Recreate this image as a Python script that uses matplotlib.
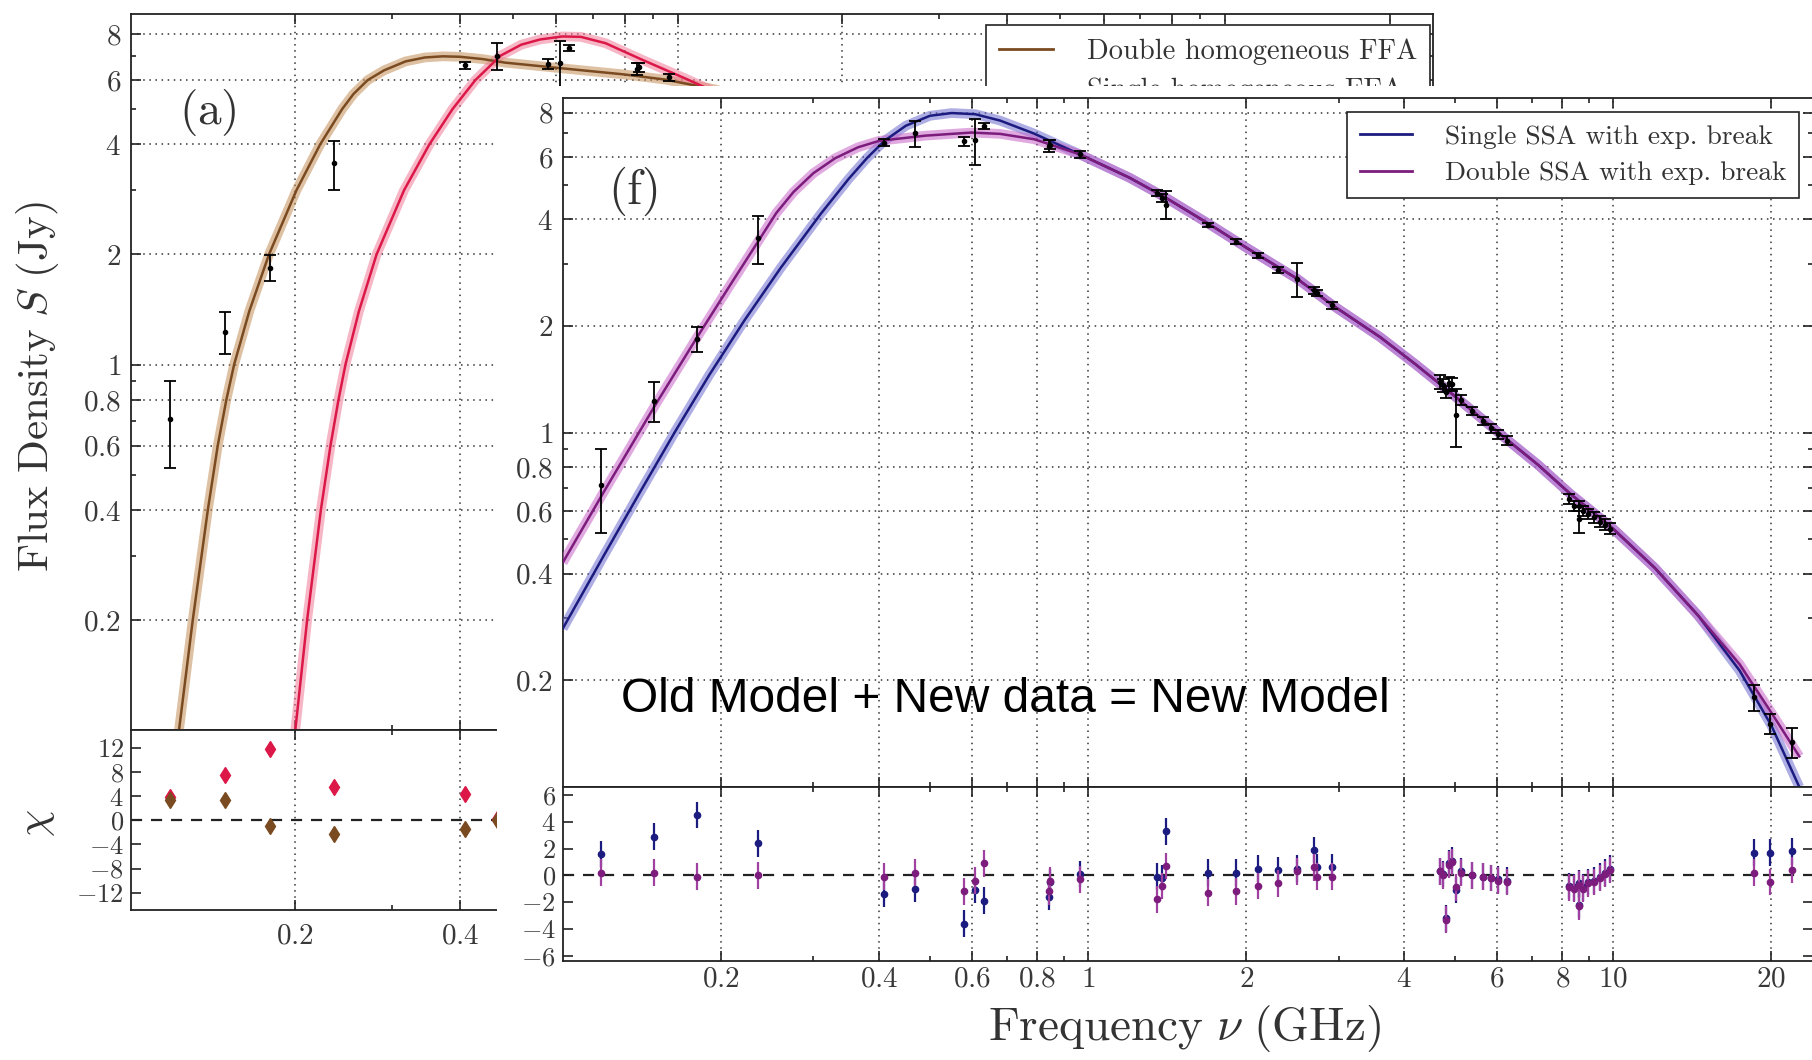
import numpy as np
import matplotlib
matplotlib.use('Agg')
import matplotlib.pyplot as plt
from matplotlib.ticker import FixedLocator, FixedFormatter, NullFormatter
from matplotlib.patches import Rectangle

plt.rcParams['mathtext.fontset'] = 'cm'
plt.rcParams['font.family'] = 'serif'
plt.rcParams['font.serif'] = ['cmr10', 'DejaVu Serif']
plt.rcParams['axes.unicode_minus'] = False

# measured spectrum (GHz, Jy)
freq = [0.118, 0.149, 0.180, 0.235, 0.408, 0.468, 0.580, 0.610, 0.634, 0.842,
        0.848, 0.965, 1.35, 1.38, 1.41, 1.69, 1.91, 2.11, 2.30, 2.50,
        2.69, 2.73, 2.92, 4.67, 4.75, 4.80, 4.86, 4.93, 5.01, 5.13,
        5.38, 5.64, 5.85, 6.04, 6.27, 8.22, 8.43, 8.60, 8.62, 8.77,
        8.97, 9.20, 9.45, 9.66, 9.85, 18.5, 19.9, 21.9]
flux = [0.71, 1.23, 1.84, 3.55, 6.58, 7.0, 6.65, 6.7, 7.35, 6.45,
        6.5, 6.1, 4.75, 4.6, 4.4, 3.86, 3.46, 3.17, 2.88, 2.72,
        2.52, 2.48, 2.29, 1.39, 1.36, 1.30, 1.38, 1.37, 1.12, 1.24,
        1.15, 1.08, 1.03, 0.99, 0.95, 0.65, 0.62, 0.57, 0.62, 0.60,
        0.59, 0.577, 0.56, 0.55, 0.536, 0.179, 0.151, 0.134]
flux_err = [0.19, 0.16, 0.15, 0.55, 0.15, 0.6, 0.2, 1.0, 0.15, 0.25,
            0.2, 0.15, 0.1, 0.12, 0.4, 0.05, 0.05, 0.05, 0.06, 0.3,
            0.05, 0.05, 0.05, 0.06, 0.06, 0.05, 0.06, 0.06, 0.21, 0.04,
            0.03, 0.03, 0.03, 0.03, 0.03, 0.02, 0.02, 0.05, 0.02, 0.02,
            0.02, 0.02, 0.02, 0.02, 0.02, 0.015, 0.01, 0.013]
chi_single = [1.6, 2.9, 4.5, 2.4, -1.4, -1.0, -3.6, -1.1, -1.9, -1.6,
              -0.5, 0.1, -0.1, -0.2, 3.3, 0.2, 0.2, 0.5, 0.4, 0.5,
              1.9, 0.6, 0.6, 0.3, 0.1, -3.2, 0.9, 1.1, -1.1, 0.3,
              0.0, -0.1, -0.2, -0.3, -0.4, -0.8, -0.9, -2.2, -0.6, -0.9,
              -0.5, -0.4, -0.1, 0.2, 0.5, 1.7, 1.7, 1.8]
chi_double = [0.2, 0.2, -0.1, 0.0, -0.1, 0.2, -1.2, -0.4, 0.9, -1.2,
              -0.4, -0.3, -1.8, -0.8, 0.7, -1.3, -1.2, -0.8, -0.6, 0.3,
              0.6, -0.1, -0.1, 0.3, 0.0, -3.3, 0.8, 1.0, -0.9, 0.2,
              0.0, -0.1, -0.2, -0.4, -0.5, -0.9, -1.0, -2.3, -0.7, -1.0,
              -0.6, -0.5, -0.2, 0.1, 0.4, 0.2, -0.5, 0.4]

# panel (a) residuals, low-frequency points only
freq_a_res = [0.118, 0.149, 0.180, 0.235, 0.408, 0.468]
chi_ffa_single = [3.8, 7.5, 11.9, 5.5, 4.3, 0.2]
chi_ffa_double = [3.4, 3.3, -0.9, -2.2, -1.5, 0.0]

# model curves
nu_ffa2 = [0.1226, 0.1299, 0.1384, 0.1443, 0.1496, 0.1546, 0.1648, 0.179, 0.201, 0.222,
           0.2436, 0.2555, 0.2712, 0.2905, 0.318, 0.345, 0.372, 0.40, 0.44, 0.483,
           0.603, 0.797, 0.949, 1.17, 1.3]
s_ffa2 = [0.1, 0.2, 0.4, 0.6, 0.8, 1.0, 1.4, 2.0, 3.0, 4.0,
          5.0, 5.5, 6.0, 6.38, 6.75, 6.92, 6.97, 6.95, 6.85, 6.7,
          6.48, 6.22, 6.02, 5.66, 5.4]
nu_ffa1 = [0.2, 0.2102, 0.2227, 0.2319, 0.2398, 0.2470, 0.2614, 0.2815, 0.3161, 0.3515,
           0.3876, 0.4266, 0.4745, 0.5174, 0.56, 0.615, 0.665, 0.738, 0.861, 1.043,
           1.19, 1.3]
s_ffa1 = [0.1, 0.2, 0.4, 0.6, 0.8, 1.0, 1.4, 2.0, 3.0, 4.0,
          5.0, 6.0, 7.0, 7.5, 7.75, 7.9, 7.88, 7.57, 6.82, 6.02,
          5.5, 5.1]

nu_ssa1 = [0.10, 0.12, 0.14, 0.164, 0.19, 0.222, 0.26, 0.31, 0.35, 0.38,
           0.41, 0.45, 0.50, 0.55, 0.61, 0.68, 0.79, 0.965, 1.2, 1.4,
           1.7, 2.0, 2.5, 2.92, 3.6, 4.2, 4.8, 5.4, 6.2, 7.2,
           8.3, 9.3, 10.0, 12.0, 14.5, 17.4, 20.0, 22.6]
s_ssa1 = [0.28, 0.453, 0.676, 1.013, 1.454, 2.08, 2.92, 4.15, 5.2, 5.97,
          6.67, 7.35, 7.84, 7.98, 7.92, 7.6, 6.98, 6.1, 5.24, 4.62,
          3.88, 3.33, 2.72, 2.29, 1.86, 1.56, 1.33, 1.15, 0.97, 0.81,
          0.67, 0.585, 0.535, 0.415, 0.305, 0.213, 0.149, 0.1]
nu_ssa2 = [0.10, 0.12, 0.15, 0.18, 0.21, 0.235, 0.255, 0.275, 0.30, 0.33,
           0.365, 0.40, 0.49, 0.60, 0.68, 0.79, 0.965, 1.2, 1.4, 1.7,
           2.0, 2.5, 2.92, 3.6, 4.2, 4.8, 5.4, 6.2, 7.2, 8.3,
           9.3, 10.0, 12.0, 14.5, 17.4, 20.0, 22.6]
s_ssa2 = [0.43, 0.685, 1.197, 1.855, 2.66, 3.45, 4.17, 4.78, 5.40, 5.95,
          6.39, 6.66, 6.89, 7.03, 6.97, 6.73, 6.1, 5.24, 4.62, 3.88,
          3.33, 2.72, 2.29, 1.86, 1.56, 1.33, 1.15, 0.97, 0.81, 0.67,
          0.585, 0.535, 0.415, 0.305, 0.222, 0.162, 0.122]

x_major = [0.2, 0.4, 0.6, 0.8, 1, 2, 4, 6, 8, 10, 20]
x_labels = ['$0.2$', '$0.4$', '$0.6$', '$0.8$', '$1$', '$2$', '$4$', '$6$', '$8$', '$10$', '$20$']
x_minor = [0.3, 0.5, 0.7, 0.9, 3, 5, 7, 9]
y_major = [0.2, 0.4, 0.6, 0.8, 1, 2, 4, 6, 8]
y_labels = ['$0.2$', '$0.4$', '$0.6$', '$0.8$', '$1$', '$2$', '$4$', '$6$', '$8$']
y_minor = [0.3, 0.5, 0.7, 0.9, 3, 5, 7]

BROWN, BROWN_L = '#7a4a20', '#c48f58'
RED, RED_L = '#dc1848', '#f27a96'
NAVY, NAVY_L = '#1c1c80', '#6c6cd0'
PURP, PURP_L = '#7c1c7c', '#c864c8'
TICKC = '#383838'
FS = 21

W, H = 1812.0, 1060.0


def box(l, t, r, b):
    return [l / W, 1 - b / H, (r - l) / W, (b - t) / H]


def style(ax, ylog=True, xlabels=False, ygrid=True):
    ax.set_xscale('log')
    ax.set_xlim(0.1, 24)
    ax.xaxis.set_major_locator(FixedLocator(x_major))
    ax.xaxis.set_minor_locator(FixedLocator(x_minor))
    ax.xaxis.set_major_formatter(FixedFormatter(x_labels))
    ax.xaxis.set_minor_formatter(NullFormatter())
    if ylog:
        ax.set_yscale('log')
        ax.yaxis.set_major_locator(FixedLocator(y_major))
        ax.yaxis.set_minor_locator(FixedLocator(y_minor))
        ax.yaxis.set_major_formatter(FixedFormatter(y_labels))
        ax.yaxis.set_minor_formatter(NullFormatter())
    ax.tick_params(which='both', direction='in', top=True, right=True,
                   width=1.2, color='#222222', labelcolor=TICKC, labelsize=FS)
    ax.tick_params(which='major', length=7)
    ax.tick_params(which='minor', length=3.5)
    ax.tick_params(axis='y', pad=7)
    ax.tick_params(axis='x', labelbottom=xlabels)
    for s in ax.spines.values():
        s.set_linewidth(1.3)
        s.set_color('#222222')
    ax.grid(True, which='major', axis='both' if ygrid else 'x',
            ls=(0, (1, 3)), color='#333333', lw=1.1)
    ax.set_axisbelow(True)


def model(ax, nu, s, c, cl):
    ax.plot(nu, s, color=cl, lw=7, alpha=0.55, solid_capstyle='butt',
            solid_joinstyle='round', zorder=3)
    ax.plot(nu, s, color=c, lw=1.8, solid_joinstyle='round', zorder=4)


def legend(ax, handles, labels, anchor, size):
    lg = ax.legend(handles, labels, loc='upper right', bbox_to_anchor=anchor,
                   borderaxespad=0, prop={'family': 'cmr10', 'size': size},
                   fancybox=False, edgecolor='#222222', framealpha=1,
                   handlelength=1.9, handletextpad=1.2, labelspacing=0.45,
                   borderpad=0.45)
    lg.get_frame().set_linewidth(1.2)
    for t in lg.get_texts():
        t.set_color('#333333')
    return lg


fig = plt.figure(figsize=(18.12, 10.6), dpi=100)

# ---- panel (a), behind
ax_a = fig.add_axes(box(130.6, 14, 1433, 730))
ax_ar = fig.add_axes(box(130.6, 730, 1433, 909.5))
ax_a.set_zorder(1)
ax_ar.set_zorder(1)
style(ax_a)
ax_a.set_ylim(0.1, 9.1)
model(ax_a, nu_ffa2, s_ffa2, BROWN, BROWN_L)
model(ax_a, nu_ffa1, s_ffa1, RED, RED_L)
ax_a.errorbar(freq, flux, yerr=flux_err, fmt='.', color='k', ms=6,
              elinewidth=1.3, capsize=4, capthick=1.3, zorder=5)
la, = ax_a.plot([], [], color=BROWN, lw=2)
lb, = ax_a.plot([], [], color=RED, lw=2)
legend(ax_a, [la, lb], ['Double homogeneous FFA', 'Single homogeneous FFA'],
       (0.998, 0.984), 20.5)
ax_a.text((180 * 1.1556 - 130.6) / (1433 - 130.6), 1 - (112 - 14) / (730 - 14),
          r'$\mathrm{(a)}$', transform=ax_a.transAxes, ha='center', va='center',
          fontsize=34, color='#333333')

style(ax_ar, ylog=False, xlabels=True, ygrid=False)
# only the first two labels of panel (a) stay uncovered
ax_ar.xaxis.set_major_formatter(FixedFormatter(x_labels[:2] + [''] * (len(x_labels) - 2)))
ax_ar.set_ylim(-14.8, 15)
ax_ar.set_yticks([12, 8, 4, 0, -4, -8, -12])
ax_ar.set_yticklabels(['$12$', '$8$', '$4$', '$0$', '$-4$', '$-8$', '$-12$'])
ax_ar.tick_params(axis='y', labelsize=19, pad=5)
ax_ar.tick_params(axis='x', pad=10)
ax_ar.axhline(0, color='#222222', ls=(0, (5, 4)), lw=1.6, zorder=2)
ax_ar.errorbar(freq_a_res, chi_ffa_single, yerr=1, fmt='d', ms=8, color=RED,
               ecolor=RED, elinewidth=1.5, capsize=0, zorder=4)
ax_ar.errorbar(freq_a_res, chi_ffa_double, yerr=1, fmt='d', ms=8, color=BROWN,
               ecolor=BROWN_L, elinewidth=1.5, capsize=0, zorder=5)

fig.text(38 / W, 1 - 387 / H, r'$\mathrm{Flux\ Density}\ S\ \mathrm{(Jy)}$',
         rotation=90, ha='center', va='center', fontsize=31, color='#333333')
fig.text(38 / W, 1 - 823 / H, r'$\chi$', rotation=90, ha='center', va='center',
         fontsize=31, color='#333333')

# ---- white backing of panel (f)
fig.patches.append(Rectangle((497 / W, 0), 1 - 497 / W, 1 - 86 / H,
                             transform=fig.transFigure, facecolor='white',
                             edgecolor='none', zorder=2))

# ---- panel (f), in front
ax_f = fig.add_axes(box(562.8, 98, 1813, 787))
ax_fr = fig.add_axes(box(562.8, 787, 1813, 961))
ax_f.set_zorder(3)
ax_fr.set_zorder(3)
style(ax_f)
ax_f.set_ylim(0.1, 8.8)
model(ax_f, nu_ssa1, s_ssa1, NAVY, NAVY_L)
model(ax_f, nu_ssa2, s_ssa2, PURP, PURP_L)
ax_f.errorbar(freq, flux, yerr=flux_err, fmt='.', color='k', ms=6,
              elinewidth=1.3, capsize=4, capthick=1.3, zorder=5)
l1, = ax_f.plot([], [], color=NAVY, lw=2)
l2, = ax_f.plot([], [], color=PURP, lw=2)
legend(ax_f, [l1, l2], ['Single SSA with exp. break', 'Double SSA with exp. break'],
       (0.9888, 0.9797), 19.8)
ax_f.text((548 * 1.1556 - 562.8) / (1813 - 562.8), 1 - (191 - 98) / (787 - 98),
          r'$\mathrm{(f)}$', transform=ax_f.transAxes, ha='center', va='center',
          fontsize=35, color='#333333')

style(ax_fr, ylog=False, xlabels=True, ygrid=False)
ax_fr.set_ylim(-6.4, 6.6)
ax_fr.set_yticks([6, 4, 2, 0, -2, -4, -6])
ax_fr.set_yticklabels(['$6$', '$4$', '$2$', '$0$', '$-2$', '$-4$', '$-6$'])
ax_fr.tick_params(axis='y', labelsize=19, pad=5)
ax_fr.tick_params(axis='x', pad=4)
ax_fr.axhline(0, color='#222222', ls=(0, (5, 4)), lw=1.6, zorder=2)
ax_fr.errorbar(freq, chi_single, yerr=1, fmt='o', ms=4.5, color=NAVY,
               ecolor=NAVY, elinewidth=1.6, capsize=0, zorder=4)
ax_fr.errorbar(freq, chi_double, yerr=1, fmt='o', ms=4.5, color=PURP,
               ecolor='#a040a0', elinewidth=1.6, capsize=0, zorder=5)

fig.text(1184.5 / W, 1 - 1028.5 / H, r'$\mathrm{Frequency}\ \nu\ \mathrm{(GHz)}$',
         ha='center', va='center', fontsize=34, color='#333333', zorder=10)

fig.text(620.6 / W, 1 - 711.8 / H, 'Old Model + New data = New Model',
         family='Liberation Sans', fontsize=34.5, color='black',
         ha='left', va='baseline', zorder=10)

fig.savefig('out.png', dpi=100)
